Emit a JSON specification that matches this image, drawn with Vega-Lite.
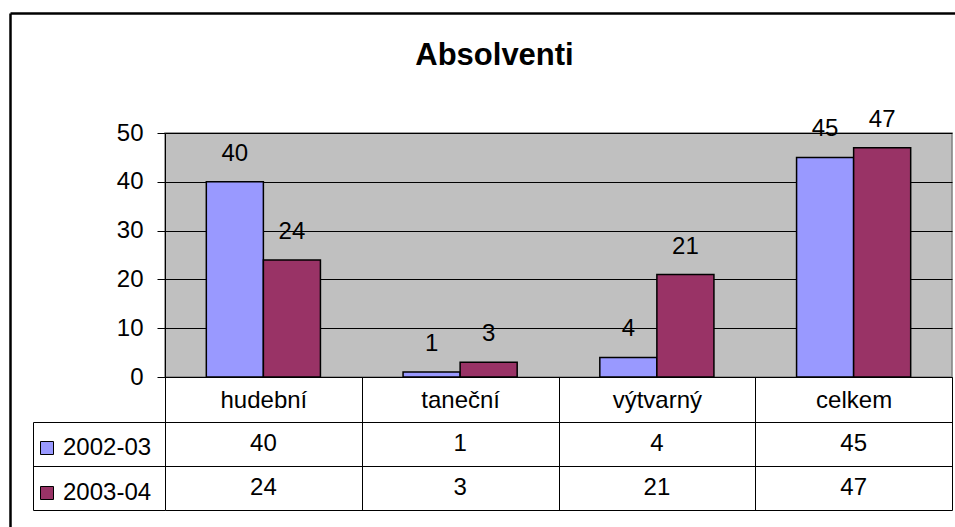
{
  "$schema": "https://vega.github.io/schema/vega-lite/v6.json",
  "width": 787,
  "height": 244,
  "autosize": {"type": "none"},
  "padding": {"left": 165, "top": 133, "right": 3, "bottom": 150},
  "background": "white",
  "title": {"text": "Absolventi", "font": "Liberation Sans", "fontSize": 31, "fontWeight": "bold", "color": "black", "anchor": "middle", "frame": "group", "offset": -59, "dx": -64},
  "config": {
    "font": "Liberation Sans",
    "view": {"fill": "#C0C0C0", "stroke": "#808080", "strokeWidth": 1.5}
  },
  "data": {"values": [
    {"cat": "hudební", "series": "2002-03", "value": 40},
    {"cat": "hudební", "series": "2003-04", "value": 24},
    {"cat": "taneční", "series": "2002-03", "value": 1},
    {"cat": "taneční", "series": "2003-04", "value": 3},
    {"cat": "výtvarný", "series": "2002-03", "value": 4},
    {"cat": "výtvarný", "series": "2003-04", "value": 21},
    {"cat": "celkem", "series": "2002-03", "value": 45},
    {"cat": "celkem", "series": "2003-04", "value": 47}
  ]},
  "layer": [
    {
      "mark": {"type": "bar", "stroke": "black", "strokeWidth": 1.5},
      "encoding": {
        "x": {"field": "cat", "type": "nominal", "sort": ["hudební", "taneční", "výtvarný", "celkem"], "scale": {"paddingInner": 0.42, "paddingOuter": 0.21}, "axis": null},
        "xOffset": {"field": "series", "type": "nominal", "sort": ["2002-03", "2003-04"]},
        "y": {"field": "value", "type": "quantitative", "scale": {"domain": [0, 50]},
          "axis": {"orient": "left", "values": [0, 10, 20, 30, 40, 50], "domainColor": "black", "tickColor": "black", "tickSize": 8, "labelFontSize": 24, "labelColor": "black", "labelPadding": 14, "grid": true, "gridColor": "black", "gridWidth": 1, "title": null}},
        "color": {"field": "series", "type": "nominal", "scale": {"domain": ["2002-03", "2003-04"], "range": ["#9999FF", "#993366"]},
          "legend": {"orient": "none", "legendX": -130, "legendY": 303, "title": null, "symbolType": "square", "symbolSize": 169, "symbolStrokeColor": "black", "symbolStrokeWidth": 1, "symbolOpacity": 1, "labelFontSize": 24, "labelColor": "black", "labelOffset": 4, "rowPadding": 21, "padding": 0}}
      }
    },
    {
      "mark": {"type": "text", "fontSize": 24, "dy": -21, "baseline": "alphabetic", "color": "black"},
      "encoding": {
        "x": {"field": "cat", "type": "nominal", "sort": ["hudební", "taneční", "výtvarný", "celkem"], "scale": {"type": "band", "range": [-155, 803], "paddingInner": 0.42, "paddingOuter": 0.64456, "align": 0.77401},
          "axis": {"orient": "top", "offset": 120, "domainColor": "black", "domainWidth": 2.5, "ticks": false, "labels": false, "grid": false, "title": null}},
        "xOffset": {"field": "series", "type": "nominal", "sort": ["2002-03", "2003-04"]},
        "y": {"field": "value", "type": "quantitative", "scale": {"domain": [-30.738, 74.59], "range": [394, -120], "nice": false, "zero": false},
          "axis": {"orient": "left", "offset": 155, "domainColor": "black", "domainWidth": 2.5, "ticks": false, "labels": false, "grid": false, "title": null}},
        "text": {"field": "value", "type": "quantitative"}
      }
    },
    {
      "mark": {"type": "text", "fontSize": 24, "color": "black"},
      "encoding": {
        "x": {"field": "cat", "type": "nominal", "sort": ["hudební", "taneční", "výtvarný", "celkem"], "scale": {"type": "band", "paddingInner": 0, "paddingOuter": 0},
          "axis": {"orient": "bottom", "tickBand": "extent", "tickSize": 133, "tickColor": "black", "domainColor": "black", "labelFontSize": 24, "labelColor": "black", "labelPadding": -122, "labelAngle": 0, "title": null, "grid": false}},
        "y": {"field": "series", "type": "nominal", "scale": {"type": "band", "domain": ["2002-03", "2003-04"], "range": [289, 377], "paddingInner": 0, "paddingOuter": 0},
          "axis": {"orient": "left", "offset": 132, "domainColor": "black", "tickBand": "extent", "tickSize": -132, "tickColor": "black", "grid": true, "gridColor": "black", "gridWidth": 1, "labels": false, "title": null}},
        "text": {"field": "value", "type": "quantitative"}
      }
    }
  ],
  "resolve": {"scale": {"x": "independent", "y": "independent", "xOffset": "independent"}, "axis": {"x": "independent", "y": "independent"}}
}
